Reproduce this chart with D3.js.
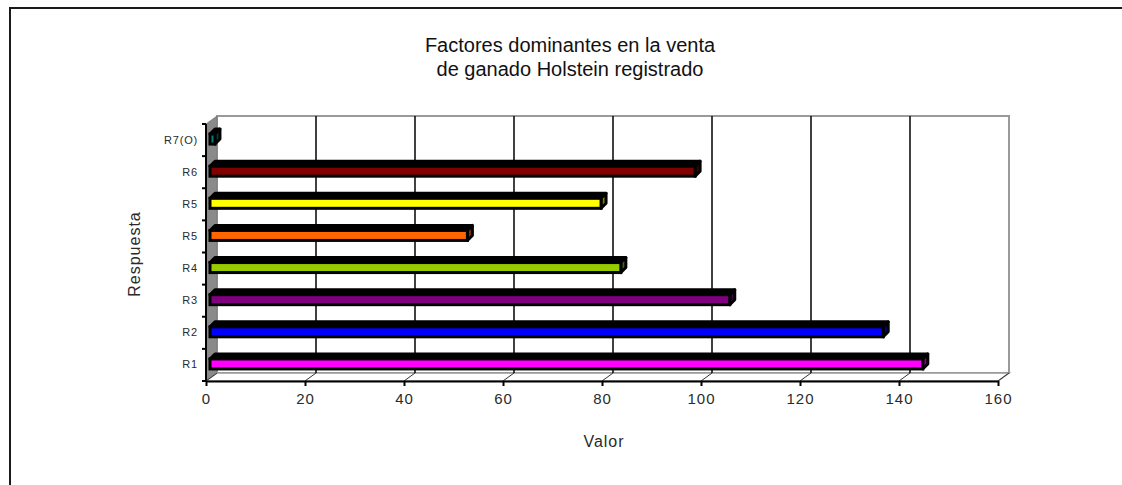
<!DOCTYPE html>
<html>
<head>
<meta charset="utf-8">
<script src="https://cdn.jsdelivr.net/npm/d3@7"></script>
<style>
  body { margin: 0; background: #fff; }
  svg { display: block; font-family: "Liberation Sans", Arial, sans-serif; }
</style>
</head>
<body>
<svg id="chart" width="1122" height="485"></svg>
<script>
// Respuestas (de abajo hacia arriba) y número de menciones
const categories = ["R1", "R2", "R3", "R4", "R5", "R5", "R6", "R7(O)"];
const values = [144, 136, 105, 83, 52, 79, 98, 1];
const barColors = ["#ff00ff", "#0000ff", "#800080", "#99cc00", "#ff6600", "#ffff00", "#800000", "#008080"];
const xTicks = [0, 20, 40, 60, 80, 100, 120, 140, 160];
const titleLines = ["Factores dominantes en la venta", "de ganado Holstein registrado"];
const xTitle = "Valor";
const yTitle = "Respuesta";

const W = 1122, H = 485;
const svg = d3.select("#chart");
svg.append("rect").attr("width", W).attr("height", H).attr("fill", "#fff");

// marco exterior del gráfico
svg.append("path")
  .attr("d", "M10,485 V8 H1122")
  .attr("fill", "none").attr("stroke", "#1a1a1a").attr("stroke-width", 2);

// plano frontal y profundidad de la caja 3D
const front = { left: 206, right: 998, bottom: 381, top: 124 };
const depth = { dx: 11, dy: -8 };

const x = d3.scaleLinear().domain([0, 160]).range([front.left, front.right]);
const y = d3.scaleBand().domain(d3.range(categories.length)).range([front.bottom, front.top]);

const x0 = x(0), x1 = x(160);
const line = d3.line();

// pared del fondo
svg.append("rect")
  .attr("x", x0 + depth.dx).attr("y", front.top + depth.dy)
  .attr("width", x1 - x0).attr("height", front.bottom - front.top)
  .attr("fill", "#fff").attr("stroke", "#9a9a9a").attr("stroke-width", 2);

// pared izquierda
svg.append("path")
  .attr("d", line([[x0, front.bottom], [x0 + depth.dx, front.bottom + depth.dy],
                   [x0 + depth.dx, front.top + depth.dy], [x0, front.top]]) + "Z")
  .attr("fill", "#8a8a8a").attr("stroke", "#777").attr("stroke-width", 0.8);

// suelo
svg.append("path")
  .attr("d", line([[x0, front.bottom], [x1, front.bottom],
                   [x1 + depth.dx, front.bottom + depth.dy], [x0 + depth.dx, front.bottom + depth.dy]]) + "Z")
  .attr("fill", "#fff").attr("stroke", "#9a9a9a").attr("stroke-width", 1.5);

// líneas de división en la pared del fondo
svg.append("g").selectAll("line")
  .data(xTicks.filter(v => v > 0 && v < 160))
  .join("line")
  .attr("x1", v => x(v) + depth.dx).attr("x2", v => x(v) + depth.dx)
  .attr("y1", front.top + depth.dy).attr("y2", front.bottom + depth.dy)
  .attr("stroke", "#111").attr("stroke-width", 1.6);

// líneas de división en el suelo
svg.append("g").selectAll("line")
  .data(xTicks)
  .join("line")
  .attr("x1", v => x(v)).attr("x2", v => x(v) + depth.dx)
  .attr("y1", front.bottom).attr("y2", front.bottom + depth.dy)
  .attr("stroke", "#333").attr("stroke-width", 1);

// barras 3D
const bar = { off: 4, d: 5, up: 6, down: 4, sw: 3 };
const shade = c => { const r = d3.rgb(c); return d3.rgb(r.r * 0.5, r.g * 0.5, r.b * 0.5).formatHex(); };
const bars = svg.append("g").selectAll("g")
  .data(values.map((v, i) => ({ v, i })))
  .join("g");

bars.each(function (d) {
  const g = d3.select(this);
  const yc = y(d.i) + y.bandwidth() / 2;
  const ft = yc - bar.up, fb = yc + bar.down;
  const l = x(0) + bar.off, r = x(d.v) + bar.off;
  // cara superior
  g.append("path")
    .attr("d", line([[l, ft], [r, ft], [r + bar.d, ft - bar.d], [l + bar.d, ft - bar.d]]) + "Z")
    .attr("fill", "#000").attr("stroke", "#000").attr("stroke-width", bar.sw).attr("stroke-linejoin", "round");
  // cara lateral
  g.append("path")
    .attr("d", line([[r, ft], [r + bar.d, ft - bar.d], [r + bar.d, fb - bar.d], [r, fb]]) + "Z")
    .attr("fill", shade(barColors[d.i])).attr("stroke", "#000").attr("stroke-width", bar.sw).attr("stroke-linejoin", "round");
  // cara frontal
  g.append("rect")
    .attr("x", l).attr("y", ft).attr("width", Math.max(0, r - l)).attr("height", fb - ft)
    .attr("fill", barColors[d.i]).attr("stroke", "#000").attr("stroke-width", bar.sw);
});

// eje de valores
const xAxis = svg.append("g")
  .attr("transform", `translate(0,${front.bottom})`)
  .call(d3.axisBottom(x).tickValues(xTicks).tickSize(5).tickPadding(7).tickSizeOuter(0));
xAxis.select(".domain").attr("stroke", "#000").attr("stroke-width", 2);
xAxis.selectAll(".tick line").attr("stroke", "#000").attr("stroke-width", 2);
xAxis.selectAll(".tick text")
  .attr("fill", "#2a2a2a").style("font-size", "15px").style("letter-spacing", "1px")
  .style("font-family", "'Liberation Sans', Arial, sans-serif");

// eje de categorías
const yAxis = svg.append("g")
  .attr("transform", `translate(${x0},0)`)
  .call(d3.axisLeft(y).tickSize(0).tickPadding(8).tickFormat(i => categories[i]));
yAxis.select(".domain").remove();
yAxis.selectAll(".tick text")
  .attr("fill", "#2a2a2a").style("font-size", "11px").style("letter-spacing", "0.8px")
  .style("font-family", "'Liberation Sans', Arial, sans-serif");
svg.append("line")
  .attr("x1", x0).attr("x2", x0).attr("y1", front.bottom).attr("y2", front.top)
  .attr("stroke", "#000").attr("stroke-width", 2);
svg.append("g").selectAll("line")
  .data(d3.range(categories.length + 1))
  .join("line")
  .attr("x1", x0 - 4).attr("x2", x0)
  .attr("y1", k => front.bottom - k * y.step()).attr("y2", k => front.bottom - k * y.step())
  .attr("stroke", "#000").attr("stroke-width", 2);

// títulos
svg.append("g").selectAll("text")
  .data(titleLines)
  .join("text")
  .attr("x", 570).attr("y", (d, i) => 52 + i * 24)
  .attr("text-anchor", "middle").attr("fill", "#111")
  .style("font-size", "20px")
  .text(d => d);

svg.append("text")
  .attr("x", 604).attr("y", 447)
  .attr("text-anchor", "middle").attr("fill", "#2a2a2a")
  .style("font-size", "16px").style("letter-spacing", "1px")
  .text(xTitle);

svg.append("text")
  .attr("transform", "translate(140,254) rotate(-90)")
  .attr("text-anchor", "middle").attr("fill", "#2a2a2a")
  .style("font-size", "16px").style("letter-spacing", "1px")
  .text(yTitle);
</script>
</body>
</html>
